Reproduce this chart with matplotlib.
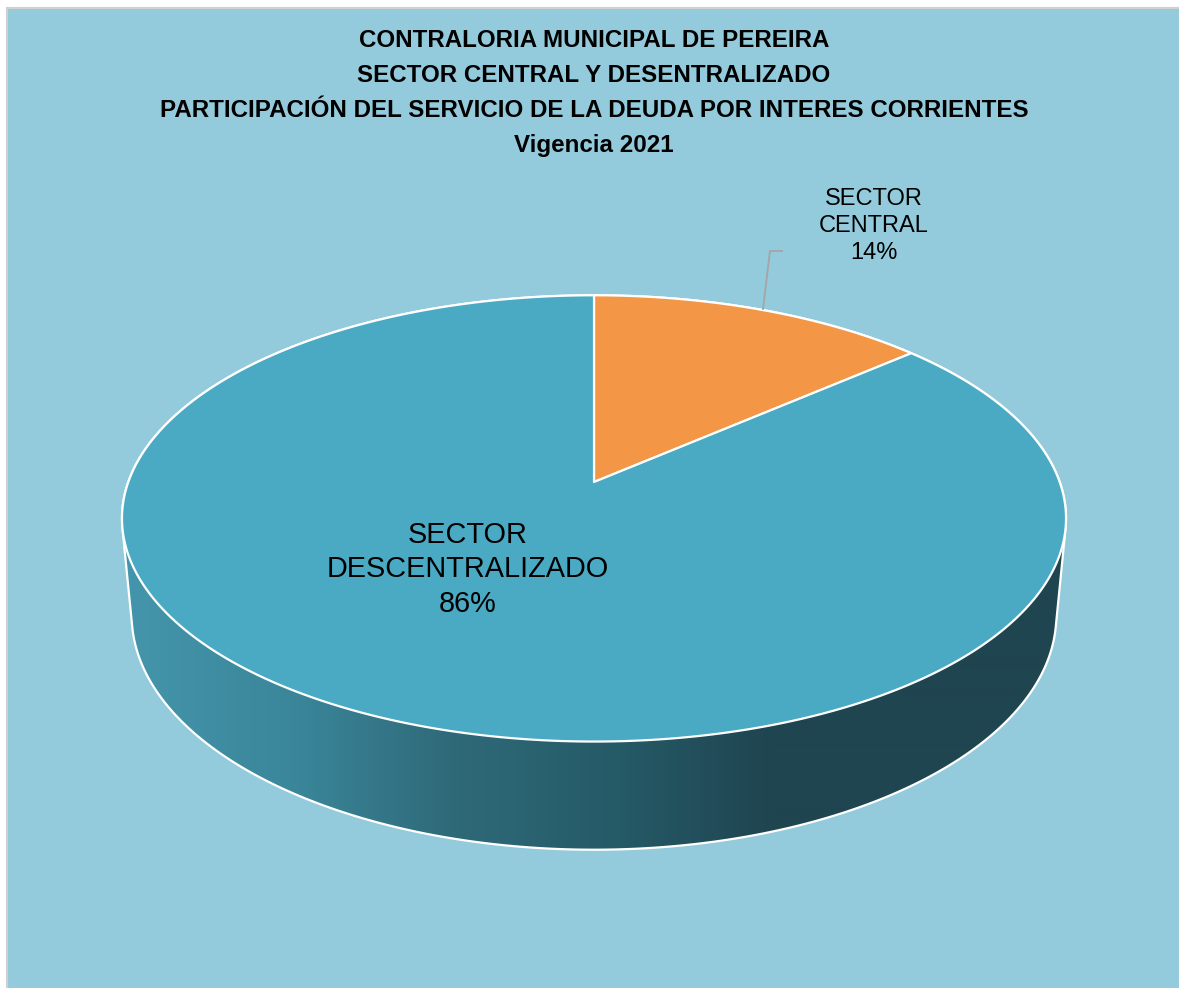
import numpy as np
import matplotlib
matplotlib.use("Agg")
import matplotlib.pyplot as plt
from matplotlib.patches import Polygon, Rectangle

# ---------------- data ----------------
categories = ["SECTOR CENTRAL", "SECTOR DESCENTRALIZADO"]
label_lines = [["SECTOR", "CENTRAL"], ["SECTOR", "DESCENTRALIZADO"]]
values = [13.6, 86.4]
slice_colors = ["#F39646", "#4AAAC4"]
title_lines = [
    "CONTRALORIA MUNICIPAL DE PEREIRA",
    "SECTOR CENTRAL Y DESENTRALIZADO",
    "PARTICIPACIÓN DEL SERVICIO DE LA DEUDA POR INTERES CORRIENTES",
    "Vigencia 2021",
]

W, H = 1179, 988
fig = plt.figure(figsize=(W / 100, H / 100), dpi=100)
fig.patch.set_facecolor("white")
ax = fig.add_axes([0, 0, 1, 1])
ax.set_xlim(0, W)
ax.set_ylim(H, 0)
ax.axis("off")

ax.add_patch(Rectangle((6.5, 8.5), W, H, facecolor="#93CBDC",
                       edgecolor="#D0D0D0", lw=1.5, zorder=0))

# ---------------- perspective projection of a 3D pie ----------------
CX, CY = 594.0, 482.0
F, D = 2524.0, 5.42
ELEV = np.radians(27.8)
THICK = 0.238
sE, cE = np.sin(ELEV), np.cos(ELEV)


def proj(theta, r=1.0, h=0.0):
    u = r * np.cos(theta)
    v = r * np.sin(theta)
    Y = v * sE - h * cE
    Z = D + v * cE + h * sE
    return CX + F * u / Z, CY - F * Y / Z


def convex_hull(pts):
    pts = sorted(map(tuple, pts))
    def cross(o, a, b):
        return (a[0] - o[0]) * (b[1] - o[1]) - (a[1] - o[1]) * (b[0] - o[0])
    lower, upper = [], []
    for p in pts:
        while len(lower) >= 2 and cross(lower[-2], lower[-1], p) <= 0:
            lower.pop()
        lower.append(p)
    for p in reversed(pts):
        while len(upper) >= 2 and cross(upper[-2], upper[-1], p) <= 0:
            upper.pop()
        upper.append(p)
    return np.array(lower[:-1] + upper[:-1])


# side (cylinder wall) as hull of top and bottom rims
th = np.linspace(0, 2 * np.pi, 721)
tx, ty = proj(th)
bx, by = proj(th, h=THICK)
hull = convex_hull(np.vstack([np.c_[tx, ty], np.c_[bx, by]]))
side = Polygon(hull, closed=True, facecolor="none", edgecolor="white",
               lw=1.6, zorder=2)
ax.add_patch(side)

# horizontal gradient shading of the wall
xs = np.linspace(100, 1100, 500)
stops_x = [100, 130, 300, 450, 620, 770, 1100]
stops_c = np.array([[68, 150, 172], [68, 149, 171], [58, 133, 153],
                    [47, 106, 121], [37, 90, 103], [31, 69, 80],
                    [31, 69, 80]]) / 255.0
grad = np.stack([np.interp(xs, stops_x, stops_c[:, k]) for k in range(3)], axis=-1)
img = ax.imshow(grad[np.newaxis, :, :], extent=(100, 1100, 900, 400),
                aspect="auto", interpolation="bilinear", zorder=1)
clip = Polygon(hull, closed=True, transform=ax.transData)
img.set_clip_path(clip)

# top face slices, starting at 12 o'clock, clockwise
total = float(sum(values))
start = np.pi / 2
for val, col in zip(values, slice_colors):
    sweep = 2 * np.pi * val / total
    a = np.linspace(start, start - sweep, max(int(val * 8), 20))
    px, py = proj(a)
    poly = np.vstack([[CX, CY], np.c_[px, py]])
    ax.add_patch(Polygon(poly, closed=True, facecolor=col, edgecolor="white",
                         lw=1.6, joinstyle="round", zorder=3))
    start -= sweep

# ---------------- texts ----------------
font = "Liberation Sans"
baselines = [47, 82, 117, 152]
for line, yb in zip(title_lines, baselines):
    ax.text(594, yb, line, ha="center", va="baseline", fontsize=17.4,
            fontweight="bold", family=font, color="black", zorder=5)

pcts = [f"{round(100 * v / total):.0f}%" for v in values]

# SECTOR CENTRAL label with leader line
ax.plot([763, 770, 782], [309, 251, 251], color="#A5A5A5", lw=1.3, zorder=4)
for line, yb in zip(label_lines[0] + [pcts[0]], [205, 232, 259]):
    ax.text(874, yb, line, ha="center", va="baseline", fontsize=17,
            family=font, color="black", zorder=5)

# SECTOR DESCENTRALIZADO label
for line, yb in zip(label_lines[1] + [pcts[1]], [543, 577, 612]):
    ax.text(468, yb, line, ha="center", va="baseline", fontsize=20.8,
            family=font, color="black", zorder=5)

fig.savefig("out.png", dpi=100, facecolor=fig.get_facecolor())
